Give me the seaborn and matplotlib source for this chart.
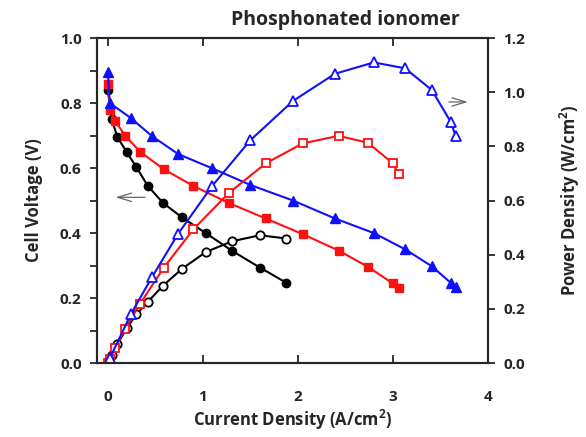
import matplotlib
matplotlib.use("Agg")
import matplotlib.pyplot as plt
import seaborn as sns
import numpy as np
import pandas as pd

# ---- data ----
cur_black = [0.0, 0.04, 0.10, 0.20, 0.30, 0.42, 0.58, 0.78, 1.03, 1.31, 1.60, 1.88]
volt_black = [0.84, 0.75, 0.695, 0.648, 0.603, 0.545, 0.493, 0.448, 0.40, 0.345, 0.294, 0.247]
pow_black = [0.0, 0.03, 0.07, 0.13, 0.18, 0.226, 0.286, 0.348, 0.41, 0.45, 0.472, 0.46]

cur_red = [0.0, 0.02, 0.075, 0.18, 0.34, 0.59, 0.90, 1.27, 1.66, 2.05, 2.43, 2.74, 3.00, 3.06]
volt_red = [0.86, 0.78, 0.746, 0.70, 0.65, 0.596, 0.545, 0.493, 0.445, 0.397, 0.346, 0.296, 0.245, 0.23]
pow_red = [0.0, 0.016, 0.056, 0.125, 0.22, 0.353, 0.494, 0.627, 0.737, 0.811, 0.839, 0.813, 0.737, 0.698]

cur_blue = [0.0, 0.02, 0.245, 0.465, 0.74, 1.10, 1.50, 1.95, 2.39, 2.80, 3.13, 3.41, 3.61, 3.66]
volt_blue = [0.895, 0.80, 0.753, 0.698, 0.643, 0.599, 0.548, 0.50, 0.445, 0.40, 0.35, 0.298, 0.247, 0.233]
pow_blue = [0.0, 0.018, 0.183, 0.318, 0.478, 0.655, 0.823, 0.968, 1.068, 1.11, 1.088, 1.008, 0.89, 0.84]

x_ticks = [0, 1, 2, 3, 4]
v_ticks = [0.0, 0.2, 0.4, 0.6, 0.8, 1.0]
p_ticks = [0.0, 0.2, 0.4, 0.6, 0.8, 1.0, 1.2]

title = "Phosphonated ionomer"
xlabel = "Current Density (A/cm$^2$)"
ylabel_left = "Cell Voltage (V)"
ylabel_right = "Power Density (W/cm$^2$)"

sns.set_style("ticks")
plt.rcParams['font.family'] = ['Open Sans', 'DejaVu Sans']
plt.rcParams['mathtext.fontset'] = 'custom'
plt.rcParams['mathtext.rm'] = 'Open Sans'
plt.rcParams['mathtext.bf'] = 'Open Sans:bold'
plt.rcParams['mathtext.default'] = 'bf'

fig = plt.figure(figsize=(5.86, 4.37), dpi=100)
ax = fig.add_axes([0.1655, 0.169, 0.667, 0.744])
ax2 = ax.twinx()

series = [
    (cur_black, volt_black, pow_black, "black", "o", 6.0),
    (cur_red, volt_red, pow_red, "#ff1010", "s", 6.0),
    (cur_blue, volt_blue, pow_blue, "#1010ff", "^", 6.5),
]

for cur, v, p, col, mk, ms in series:
    df = pd.DataFrame({"I": cur, "V": v, "P": p})
    sns.lineplot(data=df, x="I", y="V", ax=ax, color=col, marker=mk,
                 markersize=ms, markerfacecolor=col, markeredgecolor=col,
                 mew=1.0, lw=1.5, sort=False, estimator=None)
    sns.lineplot(data=df, x="I", y="P", ax=ax2, color=col, marker=mk,
                 markersize=ms, markerfacecolor="white", markeredgecolor=col,
                 mew=1.3, lw=1.5, sort=False, estimator=None)

ax.set_xlim(-0.115, 4.0)
ax.set_ylim(0, 1.0)
ax2.set_ylim(0, 1.2)

ax.set_xticks(x_ticks)
ax.set_xticklabels([str(t) for t in x_ticks])
ax.set_yticks(v_ticks)
ax.set_yticklabels([f"{t:.1f}" for t in v_ticks])
ax.set_yticks(np.arange(0.1, 1.0, 0.2), minor=True)
ax2.set_yticks(p_ticks)
ax2.set_yticklabels([f"{t:.1f}" for t in p_ticks])

for lab in ax.get_xticklabels() + ax.get_yticklabels() + ax2.get_yticklabels():
    lab.set_fontsize(11)
    lab.set_fontweight("bold")

ax.tick_params(axis="x", direction="in", top=True, length=6, width=1.3, pad=19)
ax.tick_params(axis="y", which="major", direction="out", length=5, width=1.3, pad=6)
ax.tick_params(axis="y", which="minor", direction="out", length=5, width=1.3)
ax2.tick_params(axis="y", direction="out", length=5, width=1.3, pad=6)

for a in (ax, ax2):
    for s in a.spines.values():
        s.set_linewidth(1.5)
        s.set_visible(True)

ax.set_xlabel(xlabel, fontsize=12, fontweight="bold", labelpad=3)
ax.set_ylabel(ylabel_left, fontsize=12, fontweight="bold", labelpad=12)
ax2.set_ylabel(ylabel_right, fontsize=12, fontweight="bold", labelpad=24)

fig.text(0.59, 0.955, title, fontsize=14, fontweight="bold", ha="center", va="center")

ax.annotate("", xy=(0.05, 0.51), xytext=(0.42, 0.51),
            arrowprops=dict(arrowstyle="->,head_length=1.0,head_width=0.3", color="#666666", lw=0.9))
ax2.annotate("", xy=(3.82, 0.964), xytext=(3.56, 0.964),
             arrowprops=dict(arrowstyle="->,head_length=1.0,head_width=0.3", color="#666666", lw=0.9))

fig.savefig("out.png", dpi=100)
